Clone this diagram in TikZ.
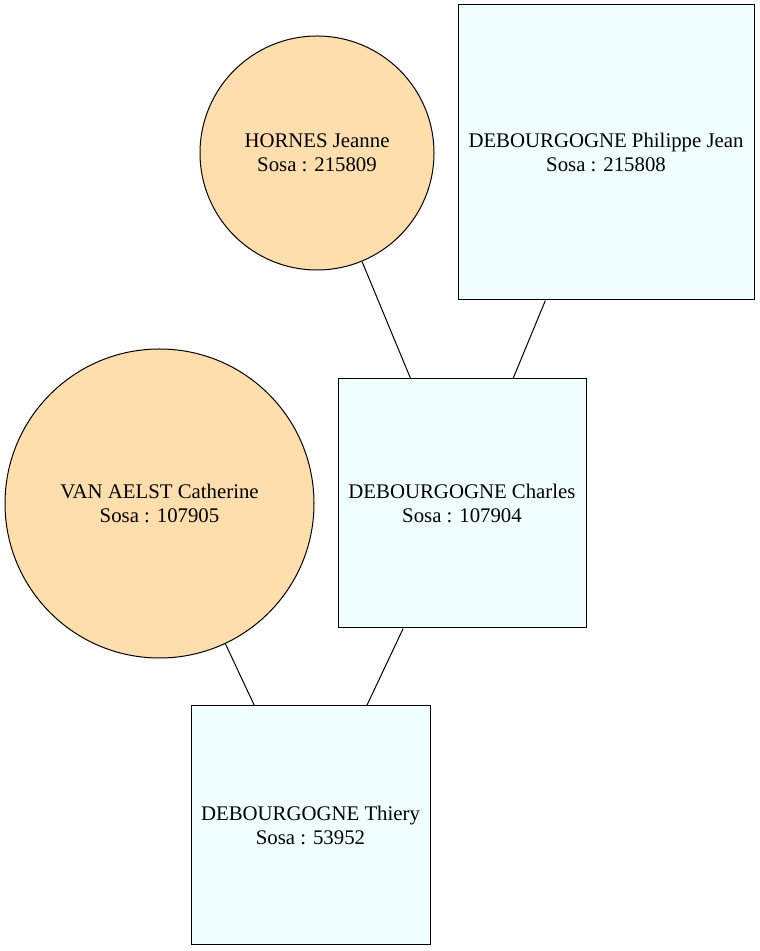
\documentclass[tikz,border=0pt]{standalone}
\usepackage{fontspec}
\setmainfont{Liberation Serif}
\definecolor{nwhite}{HTML}{FFDEAD}
\definecolor{azur}{HTML}{F0FFFF}
\begin{document}
\begin{tikzpicture}[x=1pt,y=1pt,
  every node/.style={font=\fontsize{20.8}{24}\selectfont, align=center, inner sep=0pt, draw=black, line width=1pt},
  femme/.style={circle, fill=nwhite},
  homme/.style={rectangle, fill=azur},
  lien/.style={draw=black, line width=1pt}]
\useasboundingbox (0,0) rectangle (760,951);
\node[femme, minimum size=234] (hj) at (317,798) {HORNES Jeanne\\Sosa : 215809};
\node[homme, minimum width=296, minimum height=295] (pj) at (606,798.5) {DEBOURGOGNE Philippe Jean\\Sosa : 215808};
\node[femme, minimum size=309] (vac) at (159.5,447.5) {VAN AELST Catherine\\Sosa : 107905};
\node[homme, minimum width=248, minimum height=249] (ch) at (462,447.5) {DEBOURGOGNE Charles\\Sosa : 107904};
\node[homme, minimum width=239, minimum height=239] (th) at (310.5,125.5) {DEBOURGOGNE Thiery\\Sosa : 53952};
\draw[lien] (hj) -- (ch);
\draw[lien] (pj) -- (ch);
\draw[lien] (vac) -- (th);
\draw[lien] (ch) -- (th);
\end{tikzpicture}
\end{document}
